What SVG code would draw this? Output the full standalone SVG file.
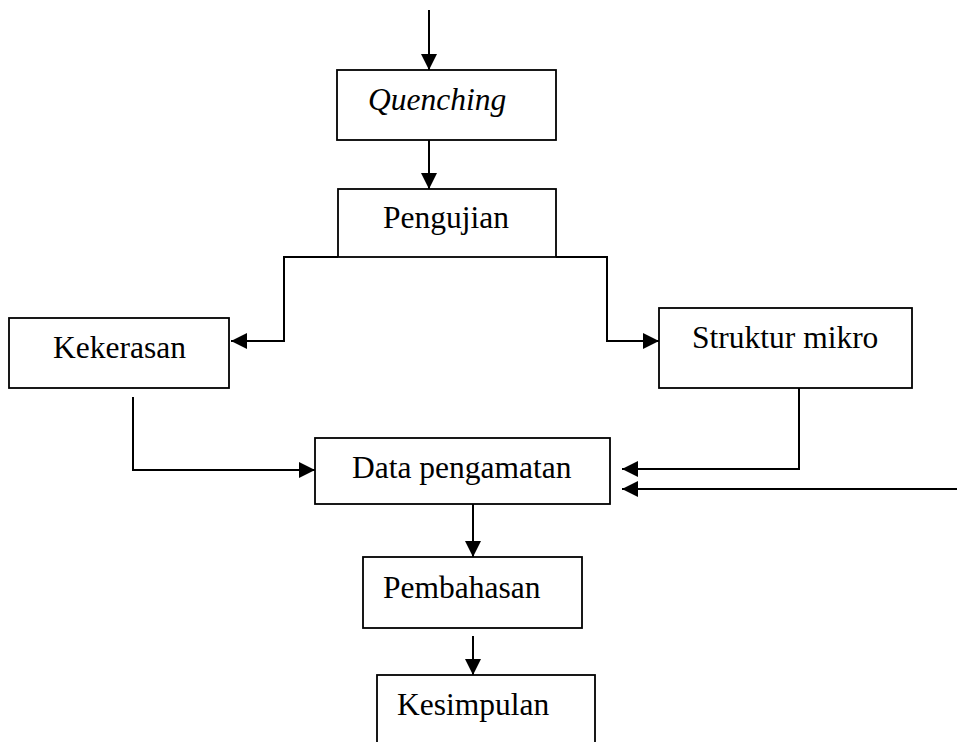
<svg xmlns="http://www.w3.org/2000/svg" width="957" height="742" viewBox="0 0 957 742">
<style>
.box{fill:#fff;stroke:#000;stroke-width:1.8}
.lbl{font-family:"Liberation Serif","Times New Roman",serif;font-size:31.5px;fill:#000}
.con{fill:none;stroke:#000;stroke-width:2}
</style>
<defs>
<marker id="ah" markerUnits="userSpaceOnUse" markerWidth="16" markerHeight="16" viewBox="0 0 16 16" refX="16" refY="8" orient="auto">
<path d="M0,0 L16,8 L0,16 Z" fill="#000"/>
</marker>
</defs>
<rect width="957" height="742" fill="#fff"/>
<g id="n-quenching"><rect class="box" x="337" y="70" width="219" height="70"/><text class="lbl" x="368" y="110" font-style="italic">Quenching</text></g>
<g id="n-pengujian"><rect class="box" x="338" y="189" width="218" height="68"/><text class="lbl" x="383" y="228">Pengujian</text></g>
<g id="n-kekerasan"><rect class="box" x="9" y="318" width="220" height="70"/><text class="lbl" x="53" y="358">Kekerasan</text></g>
<g id="n-struktur"><rect class="box" x="659" y="308" width="253" height="80"/><text class="lbl" x="692" y="348">Struktur mikro</text></g>
<g id="n-data"><rect class="box" x="315" y="438" width="295" height="66"/><text class="lbl" x="352" y="478">Data pengamatan</text></g>
<g id="n-pembahasan"><rect class="box" x="363" y="557" width="219" height="71"/><text class="lbl" x="383" y="598">Pembahasan</text></g>
<g id="n-kesimpulan"><rect class="box" x="377" y="675" width="218" height="80"/><text class="lbl" x="397" y="715">Kesimpulan</text></g>
<g id="connectors">
<path class="con" d="M429,10 V70" marker-end="url(#ah)"/>
<path class="con" d="M429,140 V189" marker-end="url(#ah)"/>
<path class="con" d="M338,257 H284 V341 H231" marker-end="url(#ah)"/>
<path class="con" d="M556,257 H607 V341 H659" marker-end="url(#ah)"/>
<path class="con" d="M133,397 V470 H315" marker-end="url(#ah)"/>
<path class="con" d="M799,388 V469 H622" marker-end="url(#ah)"/>
<path class="con" d="M957,489 H622" marker-end="url(#ah)"/>
<path class="con" d="M473,504 V557" marker-end="url(#ah)"/>
<path class="con" d="M473,636 V675" marker-end="url(#ah)"/>
</g>
</svg>
